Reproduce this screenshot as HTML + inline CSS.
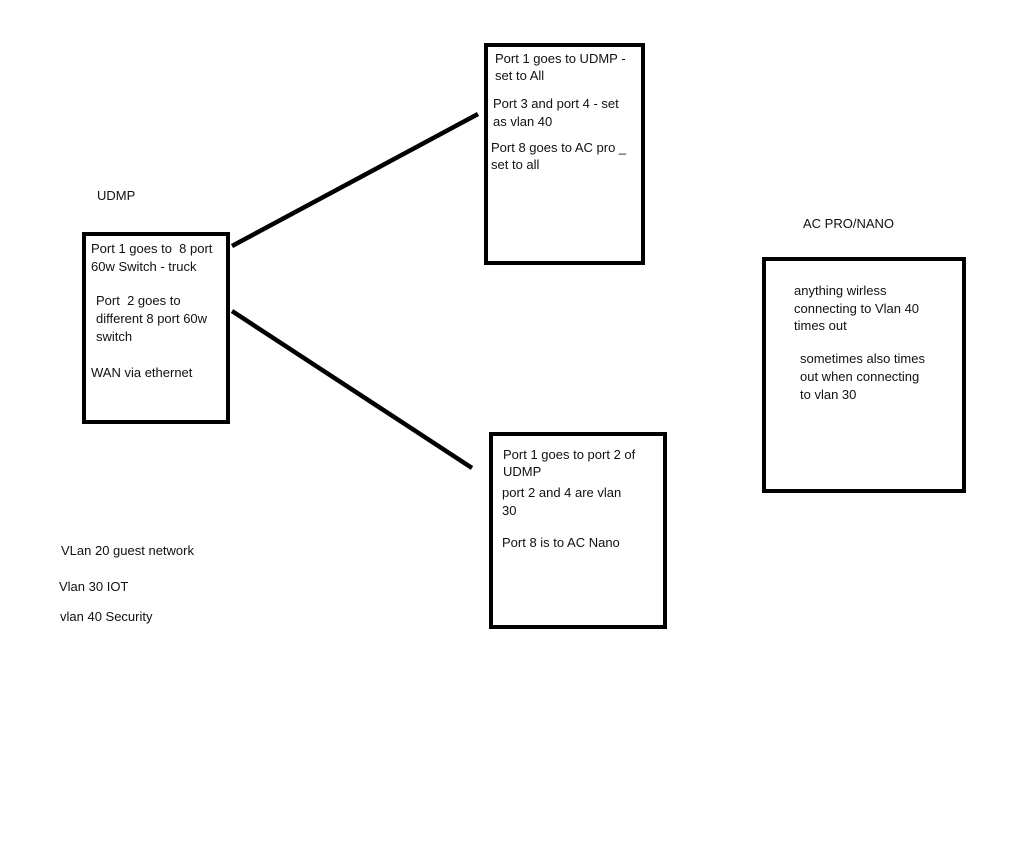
<!DOCTYPE html>
<html><head><meta charset="utf-8"><style>
html,body{margin:0;padding:0;background:#fff;width:1024px;height:868px;overflow:hidden}
.t{position:absolute;font-family:"Liberation Sans",sans-serif;font-size:13px;line-height:16px;color:#111;white-space:nowrap}
.b{position:absolute;border:4px solid #000;box-sizing:border-box;background:#fff}
</style></head><body>
<svg width="1024" height="868" style="position:absolute;left:0;top:0">
<line x1="232" y1="246" x2="478" y2="114" stroke="#000" stroke-width="4.5"/>
<line x1="232" y1="311" x2="472" y2="468" stroke="#000" stroke-width="4.5"/>
</svg>
<div class="b" style="left:82px;top:232px;width:148px;height:192px"></div>
<div class="b" style="left:484px;top:43px;width:161px;height:222px"></div>
<div class="b" style="left:489px;top:432px;width:178px;height:197px"></div>
<div class="b" style="left:762px;top:257px;width:204px;height:236px"></div>

<div class="t" style="left:97px;top:188px">UDMP</div>
<div class="t" style="left:91px;top:241px">Port 1 goes to&nbsp; 8 port</div>
<div class="t" style="left:91px;top:259px">60w Switch - truck</div>
<div class="t" style="left:96px;top:293px">Port&nbsp; 2 goes to</div>
<div class="t" style="left:96px;top:311px">different 8 port 60w</div>
<div class="t" style="left:96px;top:329px">switch</div>
<div class="t" style="left:91px;top:365px">WAN via ethernet</div>

<div class="t" style="left:495px;top:51px">Port 1 goes to UDMP -</div>
<div class="t" style="left:495px;top:68px">set to All</div>
<div class="t" style="left:493px;top:96px">Port 3 and port 4 - set</div>
<div class="t" style="left:493px;top:114px">as vlan 40</div>
<div class="t" style="left:491px;top:140px">Port 8 goes to AC pro _</div>
<div class="t" style="left:491px;top:157px">set to all</div>

<div class="t" style="left:503px;top:447px">Port 1 goes to port 2 of</div>
<div class="t" style="left:503px;top:464px">UDMP</div>
<div class="t" style="left:502px;top:485px">port 2 and 4 are vlan</div>
<div class="t" style="left:502px;top:503px">30</div>
<div class="t" style="left:502px;top:535px">Port 8 is to AC Nano</div>

<div class="t" style="left:803px;top:216px">AC PRO/NANO</div>
<div class="t" style="left:794px;top:283px">anything wirless</div>
<div class="t" style="left:794px;top:301px">connecting to Vlan 40</div>
<div class="t" style="left:794px;top:318px">times out</div>
<div class="t" style="left:800px;top:351px">sometimes also times</div>
<div class="t" style="left:800px;top:369px">out when connecting</div>
<div class="t" style="left:800px;top:387px">to vlan 30</div>

<div class="t" style="left:61px;top:543px">VLan 20 guest network</div>
<div class="t" style="left:59px;top:579px">Vlan 30 IOT</div>
<div class="t" style="left:60px;top:609px">vlan 40 Security</div>
</body></html>
